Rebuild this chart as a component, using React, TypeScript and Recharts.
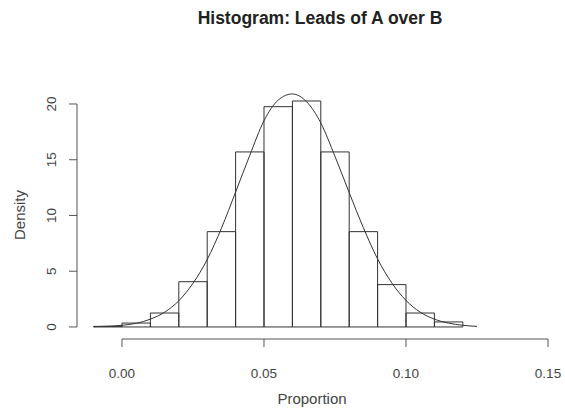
import React from "react";
import {
  ComposedChart,
  Line,
  XAxis,
  YAxis,
  ReferenceArea,
  ReferenceLine,
} from "recharts";

// Histogram bins (left edges) and their densities
const binStarts = [-0.01, 0.0, 0.01, 0.02, 0.03, 0.04, 0.05, 0.06, 0.07, 0.08, 0.09, 0.1, 0.11];
const binDensity = [0.05, 0.35, 1.25, 4.06, 8.55, 15.7, 19.76, 20.27, 15.7, 8.55, 3.8, 1.25, 0.45];
const binWidth = 0.01;

// Density curve overlaid on the histogram
const curveX = [
  -0.01, -0.005, 0.0, 0.005, 0.01, 0.015, 0.02, 0.025, 0.03, 0.035, 0.04, 0.045, 0.05, 0.055,
  0.06, 0.065, 0.07, 0.075, 0.08, 0.085, 0.09, 0.095, 0.1, 0.105, 0.11, 0.115, 0.12, 0.125,
];
const curveDensity = [
  0.03, 0.07, 0.15, 0.33, 0.7, 1.32, 2.35, 3.92, 6.05, 8.85, 12.1, 15.4, 18.5, 20.35,
  20.9, 20.2, 18.3, 15.3, 12.05, 8.9, 6.1, 3.95, 2.38, 1.33, 0.7, 0.34, 0.15, 0.05,
];

const xTicks = [0, 0.05, 0.1, 0.15];
const yTicks = [0, 5, 10, 15, 20];

const title = "Histogram: Leads of A over B";
const xTitle = "Proportion";
const yTitle = "Density";

const W = 565;
const H = 408;
const FONT = "'Liberation Sans', Arial, Helvetica, sans-serif";
const INK = "#333";
const TEXT = "#444";

// Axis extents (the axes sit slightly offset from the data region)
const xMin = -0.015845;
const xMax = 0.15;
const yMin = -1.08;
const yMax = 22;

const curveData = curveX.map((x, i) => ({ x, density: curveDensity[i] }));

const YTick = (props: any) => {
  const { x, y, payload } = props;
  return (
    <text
      x={x}
      y={y}
      transform={`rotate(-90, ${x}, ${y})`}
      textAnchor="middle"
      fontSize={13.5}
      fontFamily={FONT}
      fill={TEXT}
    >
      {payload.value}
    </text>
  );
};

const fmtX = (v: number) => v.toFixed(2);

export default function App() {
  return (
    <div style={{ position: "absolute", left: 0, top: 0, width: W, height: H, background: "#fff" }}>
      <ComposedChart
        width={W}
        height={H}
        data={curveData}
        margin={{ top: 81.7, right: 17, bottom: 29, left: 0 }}
      >
        <XAxis
          dataKey="x"
          type="number"
          domain={[xMin, xMax]}
          allowDataOverflow
          ticks={xTicks}
          tickFormatter={fmtX}
          axisLine={false}
          tickLine={{ stroke: "#555" }}
          tickSize={8}
          tickMargin={21}
          height={40}
          tick={{ fontSize: 13.5, fontFamily: FONT, fill: TEXT }}
          interval={0}
        />
        <YAxis
          type="number"
          domain={[yMin, yMax]}
          allowDataOverflow
          ticks={yTicks}
          axisLine={false}
          tickLine={{ stroke: "#555" }}
          tickSize={8}
          tickMargin={13}
          width={77}
          tick={<YTick />}
          interval={0}
        />
        <ReferenceLine
          segment={[
            { x: xTicks[0], y: yMin },
            { x: xTicks[xTicks.length - 1], y: yMin },
          ]}
          stroke="#555"
          ifOverflow="visible"
        />
        <ReferenceLine
          segment={[
            { x: xMin, y: yTicks[0] },
            { x: xMin, y: yTicks[yTicks.length - 1] },
          ]}
          stroke="#555"
          ifOverflow="visible"
        />
        {binStarts.map((b, i) => (
          <ReferenceArea
            key={i}
            x1={b}
            x2={b + binWidth}
            y1={0}
            y2={binDensity[i]}
            fill="none"
            stroke={INK}
            strokeWidth={1}
            ifOverflow="visible"
          />
        ))}
        <Line
          type="monotone"
          dataKey="density"
          stroke={INK}
          strokeWidth={1}
          dot={false}
          activeDot={false}
          isAnimationActive={false}
        />
      </ComposedChart>
      <svg
        width={W}
        height={H}
        style={{ position: "absolute", left: 0, top: 0, pointerEvents: "none" }}
      >
        <text
          x={320}
          y={24}
          textAnchor="middle"
          fontSize={17.5}
          fontWeight="bold"
          fontFamily={FONT}
          fill="#222"
        >
          {title}
        </text>
        <text x={312} y={404} textAnchor="middle" fontSize={15} fontFamily={FONT} fill={TEXT}>
          {xTitle}
        </text>
        <text
          x={25}
          y={215}
          textAnchor="middle"
          fontSize={15}
          fontFamily={FONT}
          fill={TEXT}
          transform="rotate(-90, 25, 215)"
        >
          {yTitle}
        </text>
      </svg>
    </div>
  );
}
